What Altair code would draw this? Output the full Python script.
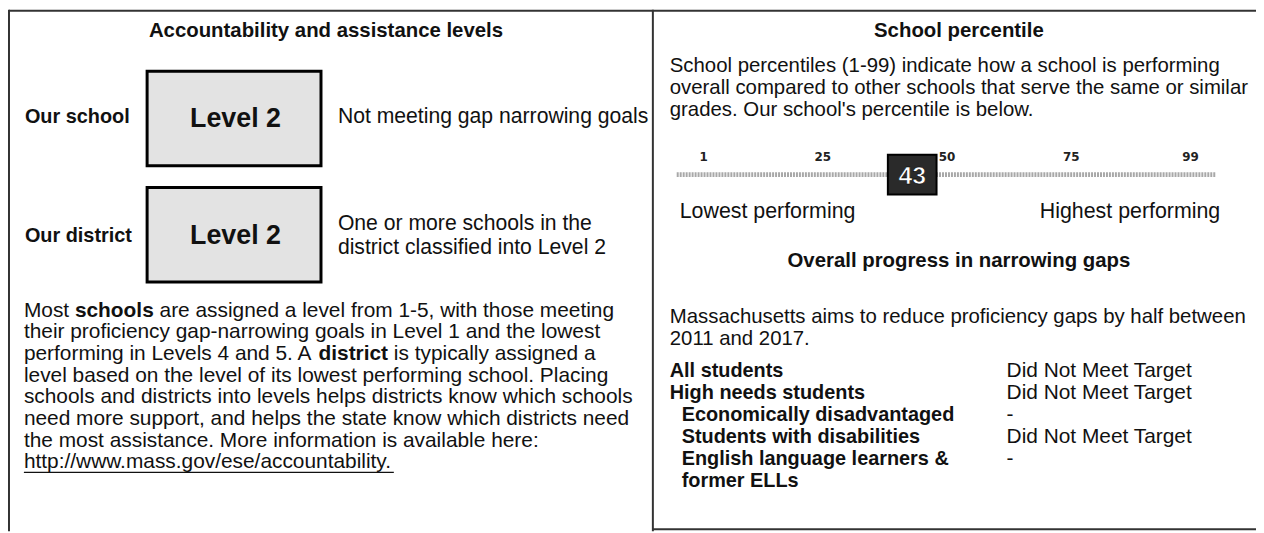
import altair as alt
import pandas as pd

# ---------------- content ----------------
left_title = "Accountability and assistance levels"
row_labels = ["Our school", "Our district"]
level_labels = ["Level 2", "Level 2"]
level_notes = [["Not meeting gap narrowing goals"],
               ["One or more schools in the", "district classified into Level 2"]]
para_lines = [
    "Most schools are assigned a level from 1-5, with those meeting",
    "their proficiency gap-narrowing goals in Level 1 and the lowest",
    "performing in Levels 4 and 5. A district is typically assigned a",
    "level based on the level of its lowest performing school. Placing",
    "schools and districts into levels helps districts know which schools",
    "need more support, and helps the state know which districts need",
    "the most assistance. More information is available here:",
    "http://www.mass.gov/ese/accountability.",
]
bold_words = {0: "schools", 2: "district"}

right_title = "School percentile"
pct_intro = [
    "School percentiles (1-99) indicate how a school is performing",
    "overall compared to other schools that serve the same or similar",
    "grades. Our school's percentile is below.",
]
pct_ticks = [1, 25, 50, 75, 99]
school_pct = [43]
scale_ends = ["Lowest performing", "Highest performing"]
gap_title = "Overall progress in narrowing gaps"
gap_intro = ["Massachusetts aims to reduce proficiency gaps by half between",
             "2011 and 2017."]
groups = ["All students", "High needs students", "Economically disadvantaged",
          "Students with disabilities", "English language learners &", "former ELLs"]
group_indent = [0, 0, 1, 1, 1, 1]
group_status = ["Did Not Meet Target", "Did Not Meet Target", "-",
                "Did Not Meet Target", "-", ""]

# ---------------- layout / style ----------------
W, H = 1256, 525
X0, Y0 = 8, 8
FONT = "Liberation Sans, Arial, sans-serif"
REG_SIZE, BOLD_SIZE, HEAD_SIZE = 21, 20, 20.5
RIGHT_SIZE = 20.5

# Helvetica/Arial advance widths (1/1000 em) for placing inline bold words
_low = "abcdefghijklmnopqrstuvwxyz"
_up = "ABCDEFGHIJKLMNOPQRSTUVWXYZ"
REG = dict(zip(_low, [556, 556, 500, 556, 556, 278, 556, 556, 222, 222, 500, 222, 833,
                      556, 556, 556, 556, 333, 500, 278, 556, 500, 722, 500, 500, 500]))
REG.update(dict(zip(_up, [667, 667, 722, 722, 667, 611, 778, 722, 278, 500, 667, 556, 833,
                          722, 778, 667, 778, 722, 667, 611, 722, 667, 944, 667, 667, 611])))
REG.update({' ': 278, '.': 278, ',': 278, ':': 278, '/': 278, '-': 333, '(': 333, ')': 333})
REG.update({d: 556 for d in "0123456789"})
BOLD = dict(zip(_low, [556, 611, 556, 611, 556, 333, 611, 611, 278, 278, 556, 278, 889,
                       611, 611, 611, 611, 389, 556, 333, 611, 556, 778, 556, 556, 500]))
BOLD.update({' ': 278})


def tw(s, size, table):
    return sum(table.get(c, 556) for c in s) * size / 1000.0


xs = alt.Scale(domain=[X0, X0 + W])
ys = alt.Scale(domain=[Y0, Y0 + H], reverse=True)
ps = alt.Scale(domain=[1, 99], range=[700, 1190])


def X(f="px"):
    return alt.X(f"{f}:Q", scale=xs, axis=None)


def Y(f="py"):
    return alt.Y(f"{f}:Q", scale=ys, axis=None)


def text_layer(rows, size, bold=False, align="left", font=FONT, color="#111111"):
    df = pd.DataFrame(rows, columns=["text", "px", "py"])
    return alt.Chart(df).mark_text(
        align=align, baseline="middle", font=font, fontSize=size,
        fontWeight="bold" if bold else "normal", color=color
    ).encode(x=X(), y=Y(), text="text:N")


layers = []

# frame lines
frame = pd.DataFrame([
    (X0 + 1, Y0 + 1, 1264, Y0 + 1),
    (X0 + 1, Y0, X0 + 1, 533),
    (657, Y0, 657, 533),
    (657, 531, 1264, 531),
], columns=["px", "py", "px2", "py2"])
layers.append(alt.Chart(frame).mark_rule(color="#333333", strokeWidth=2).encode(
    x=X(), y=Y(), x2="px2:Q", y2="py2:Q"))

# ---------- left panel ----------
layers.append(text_layer([(left_title, 328, 29)], HEAD_SIZE, bold=True, align="center"))
label_y = [116, 236]
box_y = [(70, 165), (187, 282)]
layers.append(text_layer([(t, 25, y) for t, y in zip(row_labels, label_y)], BOLD_SIZE, bold=True))

boxes = pd.DataFrame([(148, 323, a, b) for a, b in box_y], columns=["px", "px2", "py", "py2"])
layers.append(alt.Chart(boxes).mark_rect(fill="#e3e3e3", stroke="#000000", strokeWidth=3).encode(
    x=X(), x2="px2:Q", y=Y(), y2="py2:Q"))
layers.append(text_layer([(t, 237, (a + b) / 2 + 1) for t, (a, b) in zip(level_labels, box_y)],
                         27, bold=True, align="center"))

note_y = [[116], [224, 248]]
note_rows = []
for lines, yy in zip(level_notes, note_y):
    for t, y in zip(lines, yy):
        note_rows.append((t, 340, y))
layers.append(text_layer(note_rows, 21.3))

PX0, PY0, PDY = 24, 311, 21.8
reg_rows, bold_rows = [], []
for i, line in enumerate(para_lines):
    y = PY0 + i * PDY
    if i in bold_words:
        w = bold_words[i]
        k = line.index(w)
        pre, post = line[:k], line[k + len(w):]
        x1 = PX0 + tw(pre, REG_SIZE, REG)
        x2 = x1 + tw(w, REG_SIZE, BOLD)
        lead = len(post) - len(post.lstrip(" "))
        x2 += tw(" " * lead, REG_SIZE, REG)
        reg_rows.append((pre.rstrip(" "), PX0, y))
        bold_rows.append((w, x1, y))
        reg_rows.append((post.lstrip(" "), x2, y))
    else:
        reg_rows.append((line, PX0, y))
layers.append(text_layer(reg_rows, REG_SIZE))
layers.append(text_layer(bold_rows, REG_SIZE, bold=True))

url_y = PY0 + (len(para_lines) - 1) * PDY + 10
underline = pd.DataFrame([(PX0, PX0 + tw(para_lines[-1], REG_SIZE, REG), url_y)],
                         columns=["px", "px2", "py"])
layers.append(alt.Chart(underline).mark_rule(color="#111111", strokeWidth=1.3).encode(
    x=X(), x2="px2:Q", y=Y()))

# ---------- right panel ----------
RX0, RIND = 674, 686
layers.append(text_layer([(right_title, 965, 30)], HEAD_SIZE, bold=True, align="center"))
layers.append(text_layer([(t, RX0, 65 + 22 * i) for i, t in enumerate(pct_intro)], RIGHT_SIZE))

# percentile track
TRACK_Y, TICK_Y = 174, 156
track = pd.DataFrame({"lo": [-4.4], "hi": [104.0], "py": [TRACK_Y]})
layers.append(alt.Chart(track).mark_rule(color="#a8a8a8", strokeWidth=5, strokeDash=[2, 1]).encode(
    x=alt.X("lo:Q", scale=ps, axis=None), x2="hi:Q", y=Y()))
ticks = pd.DataFrame({"pct": pct_ticks, "lab": [str(t) for t in pct_ticks], "py": TICK_Y})
layers.append(alt.Chart(ticks).mark_text(
    font="DejaVu Sans, sans-serif", fontSize=12, fontWeight="bold", color="#222222",
    baseline="middle", align="center").encode(
    x=alt.X("pct:Q", scale=ps, axis=None), y=Y(), text="lab:N"))
marker = pd.DataFrame({"pct": school_pct, "py": [TRACK_Y - 20], "py2": [TRACK_Y + 20]})
layers.append(alt.Chart(marker).transform_calculate(
    lo="datum.pct - 4.9", hi="datum.pct + 4.9").mark_rect(
    fill="#2a2a2a", stroke="#000000", strokeWidth=2).encode(
    x=alt.X("lo:Q", scale=ps, axis=None), x2="hi:Q", y=Y(), y2="py2:Q"))
marker_txt = pd.DataFrame({"pct": school_pct, "lab": [str(v) for v in school_pct], "py": [TRACK_Y + 1]})
layers.append(alt.Chart(marker_txt).mark_text(
    font=FONT, fontSize=25, fontWeight="bold", color="#ffffff",
    stroke="#000000", strokeWidth=0.6, baseline="middle", align="center").encode(
    x=alt.X("pct:Q", scale=ps, axis=None), y=Y(), text="lab:N"))

layers.append(text_layer([(scale_ends[0], 684, 212)], 21.5))
layers.append(text_layer([(scale_ends[1], 1228, 212)], 21.5, align="right"))

layers.append(text_layer([(gap_title, 965, 261)], HEAD_SIZE, bold=True, align="center"))
layers.append(text_layer([(t, RX0, 317 + 22 * i) for i, t in enumerate(gap_intro)], RIGHT_SIZE))

GY0, GDY = 372, 22
layers.append(text_layer([(g, RIND if ind else RX0, GY0 + GDY * i)
                          for i, (g, ind) in enumerate(zip(groups, group_indent))],
                         BOLD_SIZE, bold=True))
layers.append(text_layer([(s, 1013, GY0 + GDY * i) for i, s in enumerate(group_status) if s],
                         REG_SIZE))

chart = alt.layer(*layers).resolve_scale(x="independent").properties(
    width=W, height=H, padding=0, background="#ffffff",
    autosize=alt.AutoSizeParams(type="none")
).configure_view(stroke=None)

chart.save("out.html", embed_options={"renderer": "svg", "actions": False})
